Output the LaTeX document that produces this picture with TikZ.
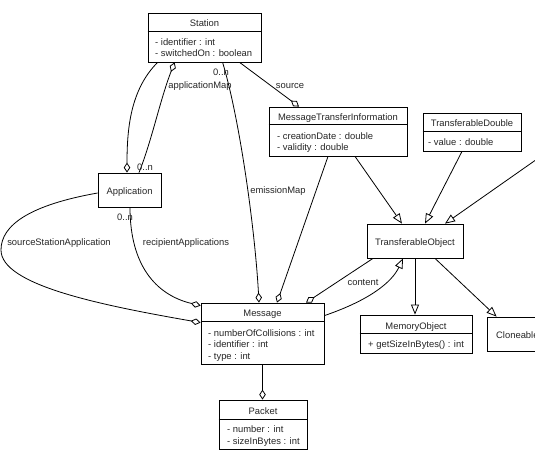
\documentclass[tikz,border=0pt]{standalone}
\usepackage{fontspec}
\setmainfont{Liberation Sans}
\usetikzlibrary{arrows.meta}
\begin{document}
\begin{tikzpicture}[x=1pt,y=-1pt,
  font=\fontsize{9.4}{11}\selectfont,
  cls/.style={draw=black, line width=0.8pt, fill=white, inner sep=0pt, rectangle},
  title/.style={inner sep=0pt, anchor=base, text=black!85},
  attr/.style={inner sep=0pt, anchor=base west, text=black!85},
  lbl/.style={inner sep=0pt, anchor=base, text=black!85},
  conn/.style={line width=0.8pt, draw=black},
  agg/.style={conn, -{Diamond[open,length=10pt,width=6.5pt]}},
  aggstart/.style={conn, {Diamond[open,length=10pt,width=6.5pt]}-},
  gen/.style={conn, -{Triangle[open,length=10pt,width=8pt]}},
]
\useasboundingbox (0,0) rectangle (535,455);
\fill[white] (0,0) rectangle (535,455);
\clip (0,0) rectangle (535,455);

% class boxes
\node[cls, minimum width=113pt, minimum height=49pt] (station) at (204.5,37.5) {};
\node[cls, minimum width=63pt,  minimum height=34pt] (application) at (129.5,190) {};
\node[cls, minimum width=138pt, minimum height=49pt] (mti) at (338,131.5) {};
\node[cls, minimum width=98pt,  minimum height=38pt] (td) at (472,132) {};
\node[cls, minimum width=96pt,  minimum height=34pt] (to) at (415,241) {};
\node[cls, minimum width=112pt, minimum height=38pt] (mo) at (416,334) {};
\node[cls, minimum width=83pt,  minimum height=34pt] (cloneable) at (528.5,334) {};
\node[cls, minimum width=123pt, minimum height=61pt] (message) at (262.5,333.5) {};
\node[cls, minimum width=88pt,  minimum height=49pt] (packet) at (263,424.5) {};

% compartment dividers
\draw[conn] ([yshift=-19pt]station.north west) -- ([yshift=-19pt]station.north east);
\draw[conn] ([yshift=-18pt]mti.north west) -- ([yshift=-18pt]mti.north east);
\draw[conn] ([yshift=-19pt]td.north west) -- ([yshift=-19pt]td.north east);
\draw[conn] ([yshift=-19pt]mo.north west) -- ([yshift=-19pt]mo.north east);
\draw[conn] ([yshift=-19pt]message.north west) -- ([yshift=-19pt]message.north east);
\draw[conn] ([yshift=-20pt]packet.north west) -- ([yshift=-20pt]packet.north east);

% class names and members
\node[title] (station-t) at (204.5,26) {Station};
\node[attr] (station-a1) at (155,45.5) {- identifier : int};
\node[attr] (station-a2) at (155,56) {- switchedOn : boolean};

\node[title] (application-t) at (129.5,194) {Application};

\node[title] (mti-t) at (338,120) {MessageTransferInformation};
\node[attr] (mti-a1) at (277,139) {- creationDate : double};
\node[attr] (mti-a2) at (277,150.5) {- validity : double};

\node[title] (td-t) at (472,126.5) {TransferableDouble};
\node[attr] (td-a1) at (428,145.5) {- value : double};

\node[title] (to-t) at (415,245) {TransferableObject};

\node[title] (mo-t) at (416,329) {MemoryObject};
\node[attr] (mo-a1) at (368,347.5) {+ getSizeInBytes() : int};

\node[attr] (cloneable-t) at (496,338) {Cloneable};

\node[title] (message-t) at (262.5,316.5) {Message};
\node[attr] (message-a1) at (208,336.8) {- numberOfCollisions : int};
\node[attr] (message-a2) at (208,347.5) {- identifier : int};
\node[attr] (message-a3) at (208,359.2) {- type : int};

\node[title] (packet-t) at (263,414.5) {Packet};
\node[attr] (packet-a1) at (227,432.5) {- number : int};
\node[attr] (packet-a2) at (227,444.5) {- sizeInBytes : int};

% associations
\draw[agg] ([xshift=10pt]station.south west) .. controls (130,90) and (127,130) .. ([xshift=-2.5pt]application.north);
\draw[aggstart] ([xshift=27pt]station.south west) .. controls (160,100) and (152,140) .. ([xshift=9.5pt]application.north);
\draw[agg] ([xshift=75pt]station.south west) .. controls (240,120) and (255,230) .. ([xshift=-3.5pt]message.north);
\draw[agg] ([xshift=92pt]station.south west) -- ([xshift=-39pt]mti.north);
\draw[agg] ([xshift=-10pt]mti.south) -- ([xshift=14.5pt]message.north);
\draw[agg] ([xshift=-42pt]to.south) -- ([xshift=43.5pt]message.north);
\draw[agg] ([xshift=0.5pt]application.south) .. controls (130,270) and (160,296) .. ([yshift=-3pt]message.north west);
\draw[agg] ([yshift=-3pt]application.west) .. controls (30,205) and (1,225) .. (1,250) .. controls (1,285) and (100,305) .. ([yshift=-20pt]message.north west);
\draw[agg] (message.south) -- (message.south |- packet.north);

% generalisations
\coordinate (offsrc) at (550,150);
\draw[gen] ([xshift=17pt]mti.south) -- ([xshift=-13pt]to.north);
\draw[gen] ([xshift=-10pt]td.south) -- ([xshift=10pt]to.north);
\draw[gen] (offsrc) -- ([xshift=30pt]to.north);
\draw[gen] (to.south) -- (to.south |- mo.north);
\draw[gen] ([xshift=20pt]to.south) -- ([xshift=10pt]cloneable.north west);
\draw[gen] ([yshift=-13pt]message.north east) .. controls (370,300) and (392,282) .. ([xshift=-12pt]to.south);

% role names and multiplicities
\node[lbl] (l-appmap) at (200,88.5) {applicationMap};
\node[lbl] (l-n1) at (221,75.5) {0..n};
\node[lbl] (l-n2) at (145,170.5) {0..n};
\node[lbl] (l-source) at (290,88.5) {source};
\node[lbl] (l-emission) at (278,193.5) {emissionMap};
\node[lbl] (l-n3) at (125,220.5) {0..n};
\node[lbl] (l-recip) at (186,245.5) {recipientApplications};
\node[lbl] (l-srcapp) at (59,245.5) {sourceStationApplication};
\node[lbl] (l-content) at (363,285.5) {content};
\end{tikzpicture}
\end{document}
